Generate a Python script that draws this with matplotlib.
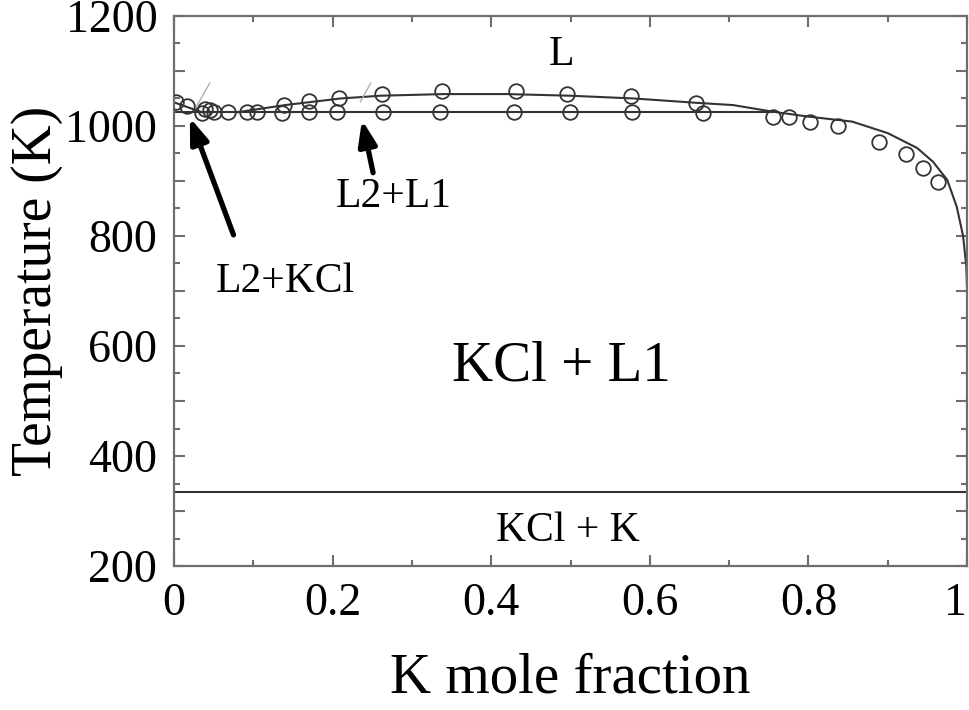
import matplotlib

matplotlib.use("Agg")

import matplotlib.pyplot as plt
from matplotlib.ticker import MultipleLocator, FuncFormatter

plt.rcParams["font.family"] = ["Liberation Serif", "DejaVu Serif"]

# experimental points, upper branch (liquidus)
x_upper = [0.003, 0.016, 0.039, 0.045, 0.139, 0.170, 0.208, 0.262, 0.338, 0.431,
           0.496, 0.576, 0.658, 0.755, 0.775, 0.802, 0.837, 0.889, 0.923, 0.945, 0.963]
T_upper = [1043, 1037, 1030, 1029, 1039, 1046, 1051, 1059, 1063, 1064,
           1059, 1055, 1041, 1017, 1017, 1008, 1000, 971, 949, 923, 898]

# experimental points, monotectic level
x_lower = [0.035, 0.050, 0.068, 0.092, 0.104, 0.136, 0.170, 0.206, 0.264, 0.335,
           0.429, 0.499, 0.578, 0.667]
T_lower = [1023, 1026, 1026, 1025, 1025, 1023, 1025, 1025, 1025, 1025,
           1025, 1025, 1025, 1023]

# calculated liquidus curve
x_liq = [0.08, 0.14, 0.21, 0.26, 0.34, 0.42, 0.50, 0.58, 0.66, 0.705, 0.755,
         0.80, 0.855, 0.90, 0.937, 0.957, 0.975, 0.987, 0.995, 0.999, 1.0]
T_liq = [1025, 1038, 1050, 1055, 1058, 1058, 1055, 1050, 1042, 1038, 1026,
         1017, 1008, 987, 960, 935, 902, 853, 800, 745, 705]

# KCl liquidus near pure KCl
x_kcl = [0.0, 0.035]
T_kcl = [1043, 1025]

T_monotectic = 1025
x_monotectic_end = 0.755
T_eutectic = 335

fig = plt.figure(figsize=(9.69, 7.10), dpi=100)
ax = fig.add_axes([0.1796, 0.2028, 0.8184, 0.7747])

line_kw = dict(color="#333333", lw=1.5, zorder=2)
ax.plot(x_liq, T_liq, **line_kw)
ax.plot(x_kcl, T_kcl, **line_kw)
ax.plot([0.0, x_monotectic_end], [T_monotectic, T_monotectic], **line_kw)
ax.axhline(T_eutectic, **line_kw)

# thin grey slashes
ax.plot([0.028, 0.045], [1035, 1078], color="#b0b0b0", lw=1.0, zorder=2)
ax.plot([0.235, 0.248], [1044, 1078], color="#b0b0b0", lw=1.0, zorder=2)

mk = dict(ls="none", marker="o", ms=10.5, mfc="none", mec="#333333", mew=1.3, zorder=3)
ax.plot(x_upper, T_upper, **mk)
ax.plot(x_lower, T_lower, **mk)

arrow_kw = dict(arrowstyle="-|>,head_length=1.5,head_width=0.55", lw=3.8, color="black",
                shrinkA=0, shrinkB=0)
ax.annotate("", xy=(0.020, 1015), xytext=(0.075, 802), arrowprops=arrow_kw)
ax.annotate("", xy=(0.237, 1011), xytext=(0.251, 915), arrowprops=arrow_kw)

ax.text(0.489, 1130, "L", fontsize=30, ha="center", va="center")
ax.text(0.277, 872, "L2+L1", fontsize=30, ha="center", va="center")
ax.text(0.140, 716, "L2+KCl", fontsize=30, ha="center", va="center")
ax.text(0.489, 563, "KCl + L1", fontsize=41, ha="center", va="center")
ax.text(0.496, 264, "KCl + K", fontsize=30, ha="center", va="center")

ax.set_xlim(0, 1)
ax.set_ylim(200, 1200)
ax.xaxis.set_major_locator(MultipleLocator(0.2))
ax.xaxis.set_minor_locator(MultipleLocator(0.1))
ax.xaxis.set_major_formatter(FuncFormatter(lambda v, p: f"{v:g}"))
ax.yaxis.set_major_locator(MultipleLocator(100))
ax.yaxis.set_minor_locator(MultipleLocator(50))
ax.yaxis.set_major_formatter(FuncFormatter(lambda v, p: f"{v:.0f}" if round(v) % 200 == 0 else ""))

ax.tick_params(which="both", direction="in", top=True, right=True, color="#6e6e6e",
               width=1.5, labelsize=33, labelcolor="black")
ax.tick_params(which="major", length=8, pad=12)
ax.tick_params(which="minor", length=4)
for sp in ax.spines.values():
    sp.set_color("#6e6e6e")
    sp.set_linewidth(1.6)

# keep the "1" label inside the figure
fig.canvas.draw()
for lbl in ax.get_xticklabels():
    if lbl.get_text() == "1":
        lbl.set_horizontalalignment("right")

ax.set_xlabel("K mole fraction", fontsize=41, labelpad=20)
ax.set_ylabel("Temperature (K)", fontsize=40, labelpad=2)

fig.savefig("out.png", dpi=100)
